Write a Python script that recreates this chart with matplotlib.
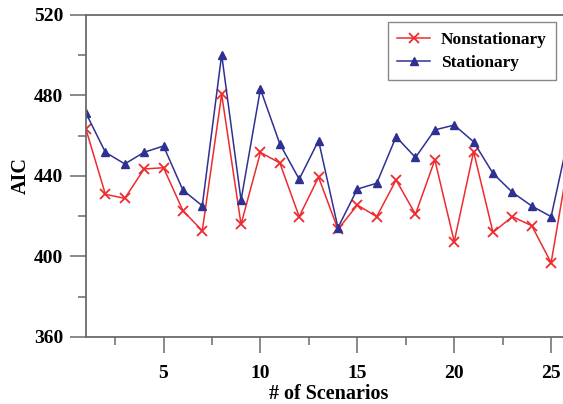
import numpy as np
import matplotlib
matplotlib.use("Agg")
import matplotlib.pyplot as plt
from matplotlib.ticker import MultipleLocator

# ── Data ──────────────────────────────────────────────────────────────────────
scenarios = list(range(1, 27))
nonstationary = [463.2, 430.9, 428.9, 443.5, 444.1, 422.8, 412.8, 480.6, 416.0, 451.7,
                 446.5, 419.8, 439.4, 413.5, 425.6, 419.8, 438.0, 421.0, 448.0, 407.4,
                 452.1, 412.0, 419.8, 415.3, 396.9, 453.5]
stationary = [471.2, 451.8, 446.0, 451.8, 454.9, 433.0, 425.2, 500.3, 428.0, 483.2,
              456.0, 438.4, 457.6, 414.3, 433.5, 436.4, 459.5, 449.2, 462.9, 465.3,
              457.0, 441.3, 431.9, 425.1, 419.8, 464.0]

red = "#ee2b2f"
blue = "#2e3192"
spine_col = "#6a6a6a"

plt.rcParams["font.family"] = ["Liberation Serif", "DejaVu Serif"]
plt.rcParams["font.weight"] = "bold"

fig = plt.figure(figsize=(5.63, 4.04), dpi=100)
# axes runs a little past the right edge, like the cropped original
ax = fig.add_axes([86 / 563, 1 - 337 / 404, (570.5 - 86) / 563, (337 - 15) / 404])

ax.plot(scenarios, nonstationary, color=red, lw=1.1, marker="x", ms=7, mew=1.3,
        label="Nonstationary")
ax.plot(scenarios, stationary, color=blue, lw=1.1, marker="^", ms=6,
        label="Stationary")

ax.set_xlim(1, 26)
ax.set_ylim(360, 520)
ax.xaxis.set_major_locator(MultipleLocator(5))
ax.xaxis.set_minor_locator(MultipleLocator(2.5))
ax.yaxis.set_major_locator(MultipleLocator(40))
ax.yaxis.set_minor_locator(MultipleLocator(20))

for s in ax.spines.values():
    s.set_color(spine_col)
    s.set_linewidth(1.3)

ax.tick_params(which="major", direction="out", length=11.5, width=1.1, color=spine_col,
               labelsize=14, top=False, right=False)
ax.tick_params(which="minor", direction="out", length=6, width=1.1, color=spine_col,
               top=False, right=False)
ax.tick_params(axis="x", which="major", pad=9)
ax.tick_params(axis="y", which="major", pad=5)
for lab in ax.get_xticklabels() + ax.get_yticklabels():
    lab.set_fontweight("bold")

ax.set_xlabel("# of Scenarios", fontsize=14.5, fontweight="bold", labelpad=1)
ax.set_ylabel("AIC", fontsize=14.5, fontweight="bold", labelpad=2)

leg = ax.legend(loc="upper right", bbox_to_anchor=(556 / 563, 1 - 22 / 404),
                bbox_transform=fig.transFigure, fancybox=False, borderaxespad=0,
                edgecolor=spine_col, handlelength=1.9, borderpad=0.55,
                labelspacing=0.4, handletextpad=0.6,
                prop={"weight": "bold", "size": 12.5})
leg.get_frame().set_linewidth(1.0)

fig.savefig("out.png", dpi=100)
